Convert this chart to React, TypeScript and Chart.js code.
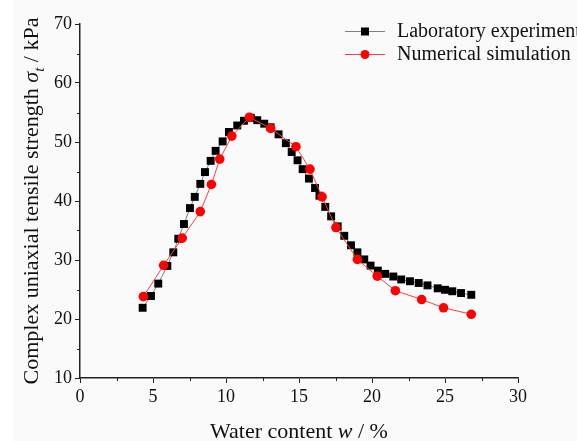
import React, { useEffect, useRef } from "react";
import { Chart, registerables } from "chart.js";

Chart.register(...registerables);

const labW = [4.29, 4.86, 5.36, 5.98, 6.39, 6.73, 7.12, 7.53, 7.86, 8.24, 8.56, 8.95, 9.29, 9.77, 10.2, 10.77, 11.23, 11.7, 12.14, 12.62, 13.05, 13.6, 14.1, 14.5, 14.9, 15.25, 15.68, 16.1, 16.4, 16.8, 17.2, 17.65, 18.1, 18.56, 19.0, 19.47, 19.9, 20.4, 20.9, 21.46, 22.0, 22.6, 23.2, 23.8, 24.5, 25.0, 25.5, 26.1, 26.8];
const labS = [21.9, 23.9, 26.0, 29.0, 31.3, 33.6, 36.1, 38.8, 40.7, 42.9, 44.9, 46.8, 48.5, 50.1, 51.7, 52.8, 53.6, 54.1, 53.7, 53.1, 52.5, 51.3, 49.8, 48.3, 46.9, 45.4, 43.8, 42.2, 40.9, 39.0, 37.4, 35.7, 34.1, 32.5, 31.3, 30.1, 29.05, 28.2, 27.65, 27.2, 26.7, 26.4, 26.1, 25.7, 25.2, 24.95, 24.7, 24.4, 24.1];

const simW = [4.34, 5.73, 7.0, 8.24, 9.0, 9.57, 10.4, 11.6, 13.06, 14.79, 15.75, 16.58, 17.53, 19.0, 20.36, 21.6, 23.4, 24.9, 26.8];
const simS = [23.8, 29.1, 33.7, 38.2, 42.8, 47.1, 51.0, 54.2, 52.3, 49.2, 45.4, 40.7, 35.5, 30.1, 27.25, 24.8, 23.3, 21.9, 20.8];

const seriesNames = ["Laboratory experiment", "Numerical simulation"];
const xTitleParts = [
  { t: "Water content ", i: false, sub: false },
  { t: "w", i: true, sub: false },
  { t: " / %", i: false, sub: false },
];
const yTitleParts = [
  { t: "Complex uniaxial tensile strength ", i: false, sub: false },
  { t: "σ", i: true, sub: false },
  { t: "t", i: true, sub: true },
  { t: " / kPa", i: false, sub: false },
];

const FONT = "'Liberation Serif', 'Times New Roman', serif";
const TITLE_SIZE = 22;

function drawParts(ctx: CanvasRenderingContext2D, parts: any[], cx: number, cy: number, size: number) {
  const fontFor = (p: any) => `${p.i ? "italic " : ""}${p.sub ? Math.round(size * 0.7) : size}px ${FONT}`;
  let total = 0;
  for (const p of parts) {
    ctx.font = fontFor(p);
    total += ctx.measureText(p.t).width;
  }
  let x = cx - total / 2;
  ctx.textBaseline = "alphabetic";
  ctx.textAlign = "left";
  for (const p of parts) {
    ctx.font = fontFor(p);
    ctx.fillText(p.t, x, cy + (p.sub ? size * 0.25 : 0));
    x += ctx.measureText(p.t).width;
  }
}

const decorPlugin = {
  id: "decor",
  beforeDraw(chart: any) {
    const ctx = chart.ctx;
    ctx.save();
    ctx.fillStyle = "#fafafa";
    ctx.fillRect(0, 0, chart.width, chart.height);
    ctx.fillStyle = "#ffffff";
    ctx.fillRect(0, 0, 14, chart.height);
    ctx.restore();
  },
  afterDraw(chart: any) {
    const ctx = chart.ctx;
    const xs = chart.scales.x;
    const ys = chart.scales.y;
    const area = chart.chartArea;
    ctx.save();
    // minor ticks
    ctx.strokeStyle = "#222";
    ctx.lineWidth = 1;
    ctx.beginPath();
    for (let v = xs.min + 2.5; v < xs.max; v += 5) {
      const px = Math.round(xs.getPixelForValue(v)) + 0.5;
      ctx.moveTo(px, area.bottom);
      ctx.lineTo(px, area.bottom + 3);
    }
    for (let v = ys.min + 5; v < ys.max; v += 10) {
      const py = Math.round(ys.getPixelForValue(v)) + 0.5;
      ctx.moveTo(area.left - 3, py);
      ctx.lineTo(area.left, py);
    }
    ctx.stroke();

    // titles
    ctx.fillStyle = "#111";
    drawParts(ctx, xTitleParts, (area.left + area.right) / 2, 438, TITLE_SIZE);
    ctx.save();
    ctx.translate(38, (area.top + area.bottom) / 2);
    ctx.rotate(-Math.PI / 2);
    drawParts(ctx, yTitleParts, 0, 0, TITLE_SIZE);
    ctx.restore();

    // legend
    const ds = chart.data.datasets;
    const rows = [31, 54];
    ds.forEach((d: any, i: number) => {
      const y = rows[i];
      ctx.strokeStyle = d.borderColor;
      ctx.lineWidth = 1;
      ctx.beginPath();
      ctx.moveTo(345, y + 0.5);
      ctx.lineTo(385, y + 0.5);
      ctx.stroke();
      ctx.fillStyle = d.pointBackgroundColor;
      if (d.pointStyle === "rect") {
        ctx.fillRect(361, y - 3.5, 8, 8);
      } else {
        ctx.beginPath();
        ctx.arc(365, y + 0.5, 4.5, 0, Math.PI * 2);
        ctx.fill();
      }
      ctx.fillStyle = "#111";
      ctx.font = `20px ${FONT}`;
      ctx.textAlign = "left";
      ctx.textBaseline = "middle";
      ctx.fillText(d.label, 397, y + 1);
    });
    ctx.restore();
  },
};

export default function App() {
  const ref = useRef<HTMLCanvasElement>(null);
  useEffect(() => {
    document.body.style.margin = "0";
    const labData = labW.map((w, i) => ({ x: w, y: labS[i] }));
    const simData = simW.map((w, i) => ({ x: w, y: simS[i] }));
    const chart = new Chart(ref.current as HTMLCanvasElement, {
      type: "scatter",
      data: {
        datasets: [
          {
            label: seriesNames[0],
            data: labData,
            showLine: true,
            borderColor: "#808080",
            borderWidth: 1,
            pointStyle: "rect",
            pointRadius: 5.6,
            pointBackgroundColor: "#000000",
            pointBorderColor: "#000000",
            pointBorderWidth: 0,
            order: 1,
          },
          {
            label: seriesNames[1],
            data: simData,
            showLine: true,
            borderColor: "#ff4040",
            borderWidth: 1,
            pointStyle: "circle",
            pointRadius: 4.8,
            pointBackgroundColor: "#ff0000",
            pointBorderColor: "#ff0000",
            pointBorderWidth: 0,
            order: 0,
          },
        ] as any,
      },
      options: {
        animation: false,
        responsive: false,
        devicePixelRatio: 1,
        layout: { padding: { left: 0, right: 59, top: 24, bottom: 0 } },
        plugins: { legend: { display: false }, tooltip: { enabled: false }, title: { display: false } },
        scales: {
          x: {
            type: "linear",
            min: 0,
            max: 30,
            afterFit: (s: any) => { s.height = 63; },
            ticks: { stepSize: 5, color: "#111", font: { family: FONT, size: 18 }, padding: 3, maxRotation: 0 },
            grid: { display: true, drawOnChartArea: false, drawTicks: true, tickLength: 5, tickColor: "#222" },
            border: { display: true, color: "#222", width: 1.5 },
          },
          y: {
            type: "linear",
            min: 10,
            max: 70,
            afterFit: (s: any) => { s.width = 80; },
            ticks: { stepSize: 10, color: "#111", font: { family: FONT, size: 18 }, padding: 3 },
            grid: { display: true, drawOnChartArea: false, drawTicks: true, tickLength: 5, tickColor: "#222" },
            border: { display: true, color: "#222", width: 1.5 },
          },
        },
      } as any,
      plugins: [decorPlugin],
    });
    return () => chart.destroy();
  }, []);
  return (
    <div style={{ width: 577, height: 441 }}>
      <canvas ref={ref} width={577} height={441} style={{ display: "block", width: 577, height: 441 }} />
    </div>
  );
}
